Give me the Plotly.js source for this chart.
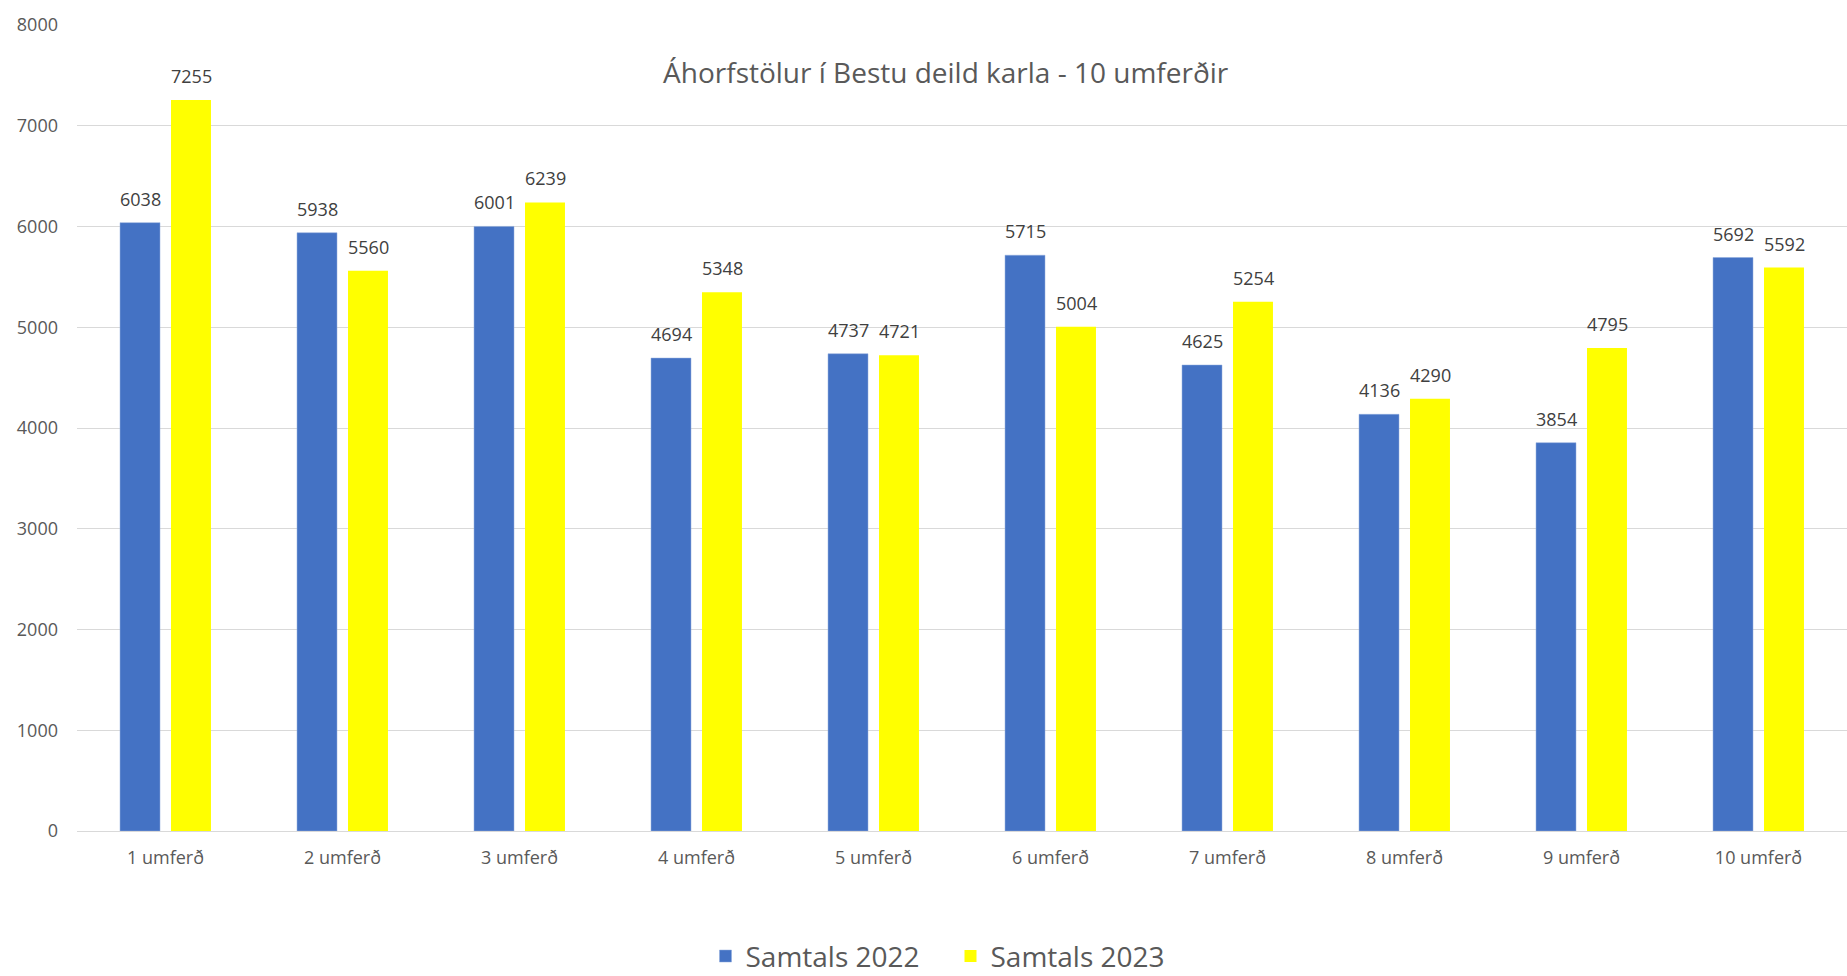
<!DOCTYPE html>
<html>
<head>
<meta charset="utf-8">
<script src="https://cdn.plot.ly/plotly-3.0.1.min.js"></script>
<style>html,body{margin:0;padding:0;background:#fff;}#chart{width:1847px;height:976px;}</style>
</head>
<body>
<div id="chart"></div>
<script>
const categories = ["1 umferð","2 umferð","3 umferð","4 umferð","5 umferð","6 umferð","7 umferð","8 umferð","9 umferð","10 umferð"];
const samtals2022 = [6038, 5938, 6001, 4694, 4737, 5715, 4625, 4136, 3854, 5692];
const samtals2023 = [7255, 5560, 6239, 5348, 4721, 5004, 5254, 4290, 4795, 5592];
const yTicks = [0,1000,2000,3000,4000,5000,6000,7000,8000];

const font = "Open Sans, Noto Sans, sans-serif";
const traces = [
  {type:'bar', name:'Samtals 2022', x:categories, y:samtals2022,
   marker:{color:'#4472C4', line:{color:'#8FAADC', width:0.5}}, hoverinfo:'none'},
  {type:'bar', name:'Samtals 2023', x:categories, y:samtals2023,
   marker:{color:'#FFFF00'}, hoverinfo:'none'}
];
const labelFont = {family:font, size:18, color:'#404040'};
const slotPx = 25.5;
const annotations = [];
categories.forEach((c, i) => {
  annotations.push({x:c, y:samtals2022[i], xref:'x', yref:'y', text:String(samtals2022[i]),
    showarrow:false, xanchor:'center', yanchor:'bottom', xshift:-slotPx, yshift:10, font:labelFont});
  annotations.push({x:c, y:samtals2023[i], xref:'x', yref:'y', text:String(samtals2023[i]),
    showarrow:false, xanchor:'center', yanchor:'bottom', xshift:slotPx, yshift:10, font:labelFont});
});
const layout = {
  width:1847, height:976,
  margin:{l:77, r:0, t:24.5, b:144.5, autoexpand:false},
  paper_bgcolor:'#fff', plot_bgcolor:'#fff',
  font:{family:font, color:'#595959'},
  title:{text:'Áhorfstölur í Bestu deild karla - 10 umferðir', font:{family:font, size:28, color:'#595959'},
         xref:'container', yref:'container', x:0.512, y:1-73/976, xanchor:'center', yanchor:'middle'},
  barmode:'group', bargap:0.424, bargroupgap:0.216,
  xaxis:{type:'category', tickfont:{family:font, size:18, color:'#595959'}, showline:false, ticks:'', showgrid:false, zeroline:false, ticklabelstandoff:14},
  yaxis:{range:[0,8000], autorange:false, tickvals:yTicks, ticktext:yTicks.map(String),
         tickfont:{family:font, size:18, color:'#595959'}, gridcolor:'#D9D9D9', gridwidth:1,
         zeroline:true, zerolinecolor:'#D9D9D9', zerolinewidth:1, showline:false, ticks:'', ticklabelstandoff:18},
  annotations: annotations,
  showlegend:true,
  legend:{orientation:'h', x:0.4935, xanchor:'center', y:-0.1555, yanchor:'middle',
          font:{family:font, size:28, color:'#595959'}, itemwidth:30,
          entrywidth:200, entrywidthmode:'pixels'}
};
Plotly.newPlot('chart', traces, layout, {staticPlot:true, displayModeBar:false});
</script>
</body>
</html>
